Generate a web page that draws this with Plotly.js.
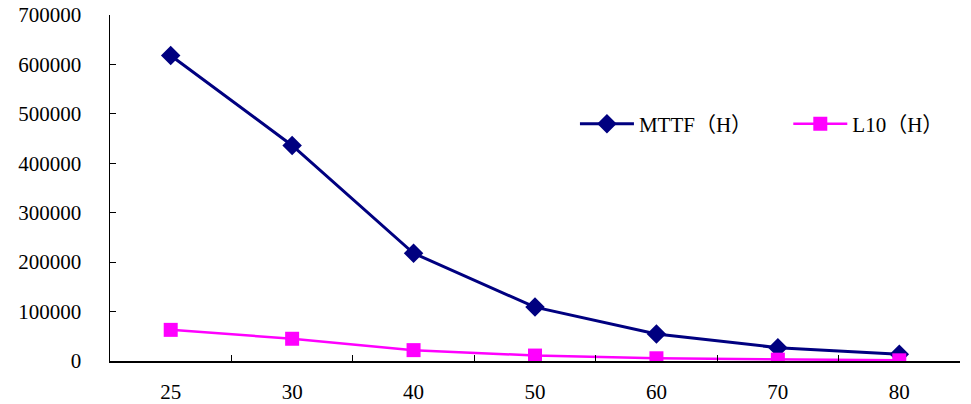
<!DOCTYPE html>
<html>
<head>
<meta charset="utf-8">
<script src="https://cdn.plot.ly/plotly-3.0.1.min.js"></script>
<style>html,body{margin:0;padding:0;background:#fff;}#chart{width:971px;height:404px;}</style>
</head>
<body>
<div id="chart"></div>
<script>
const categories = ["25", "30", "40", "50", "60", "70", "80"];
const mttfValues = [618000, 436000, 218000, 109000, 54500, 27000, 13500];
const l10Values = [63000, 45000, 22000, 11000, 5500, 2700, 1400];
const yTickValues = [0, 100000, 200000, 300000, 400000, 500000, 600000, 700000];
const seriesNames = ["MTTF（H）", "L10（H）"];

const fontFamily = "Liberation Serif, Noto Sans CJK SC, serif";

const traces = [
  {
    x: categories, y: mttfValues, name: seriesNames[0], type: "scatter", mode: "lines+markers",
    line: {color: "#000080", width: 3},
    marker: {symbol: "diamond", size: 15, color: "#000080"},
    legend: "legend"
  },
  {
    x: categories, y: l10Values, name: seriesNames[1], type: "scatter", mode: "lines+markers",
    line: {color: "#FF00FF", width: 2.5},
    marker: {symbol: "square", size: 14, color: "#FF00FF"},
    legend: "legend2"
  }
];

const legendCommon = {
  orientation: "v", xanchor: "left", yanchor: "middle",
  font: {family: fontFamily, size: 21, color: "#000"},
  itemwidth: 54, bgcolor: "rgba(0,0,0,0)", borderwidth: 0
};

const layout = {
  width: 971, height: 404,
  margin: {l: 110, r: 11, t: 15, b: 43},
  paper_bgcolor: "#fff", plot_bgcolor: "#fff",
  font: {family: fontFamily, size: 21, color: "#000"},
  showlegend: true,
  legend: Object.assign({}, legendCommon, {x: 0.547, y: 0.685}),
  legend2: Object.assign({}, legendCommon, {x: 0.798, y: 0.685}),
  xaxis: {
    type: "category", range: [-0.5, 6.5], showgrid: false, zeroline: false,
    showline: true, linecolor: "#000", linewidth: 1.5,
    ticks: "inside", tickson: "boundaries", ticklen: 6, tickcolor: "#000", tickwidth: 1,
    ticklabelstandoff: 11, automargin: false,
    tickfont: {family: fontFamily, size: 21, color: "#000"}
  },
  yaxis: {
    range: [0, 700000], tickvals: yTickValues, ticktext: yTickValues.map(String),
    showgrid: false, zeroline: false,
    showline: true, linecolor: "#000", linewidth: 1.5,
    ticks: "inside", ticklen: 6, tickcolor: "#000", tickwidth: 1,
    ticklabelstandoff: 23, automargin: false,
    tickfont: {family: fontFamily, size: 21, color: "#000"}
  }
};

Plotly.newPlot("chart", traces, layout, {displayModeBar: false, staticPlot: true});
</script>
</body>
</html>
